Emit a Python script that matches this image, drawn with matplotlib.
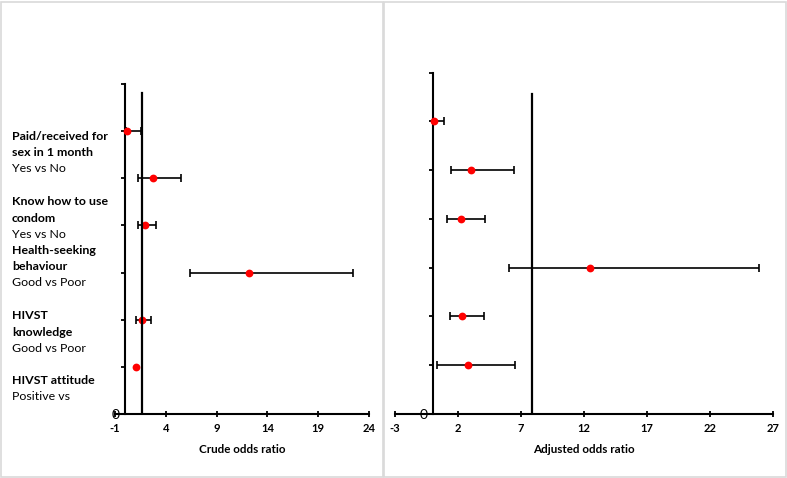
import matplotlib

matplotlib.use("Agg")
import matplotlib.pyplot as plt  # noqa: E402
from matplotlib.patches import Rectangle  # noqa: E402

plt.rcParams["font.family"] = ["Lato", "DejaVu Sans"]

# rows from top (y=6) to bottom (y=1)
ROW_Y = [6, 5, 4, 3, 2, 1]

CRUDE_OR = [0.15, 2.7, 1.95, 12.2, 1.66, 1.03]
CRUDE_LO = [0.05, 1.3, 1.23, 6.38, 1.07, 1.03]
CRUDE_HI = [1.6, 5.5, 3.0, 22.4, 2.54, 1.03]
CRUDE_REF_X = 1.66
CRUDE_REF_TOP = 6.8

ADJ_OR = [0.07, 3.0, 2.2, 12.47, 2.34, 2.82]
ADJ_LO = [0.0, 1.42, 1.15, 6.02, 1.37, 0.36]
ADJ_HI = [0.86, 6.4, 4.17, 25.9, 4.07, 6.52]
ADJ_REF_X = 7.9
ADJ_REF_TOP = 6.57

CRUDE_XTICKS = [-1, 4, 9, 14, 19, 24]
ADJ_XTICKS = [-3, 2, 7, 12, 17, 22, 27]

# (text, bold, y pixel from top)
ROW_LABELS = [
    ("Paid/received for", True, 136),
    ("sex in 1 month", True, 152.5),
    ("Yes vs No", False, 169),
    ("Know how to use", True, 201.5),
    ("condom", True, 218),
    ("Yes vs No", False, 234),
    ("Health-seeking", True, 250.5),
    ("behaviour", True, 267),
    ("Good vs Poor", False, 283),
    ("HIVST", True, 315.5),
    ("knowledge", True, 332),
    ("Good vs Poor", False, 348),
    ("HIVST attitude", True, 380.5),
    ("Positive vs", False, 397),
]

W, H = 787, 478


def forest(ax, est, lo, hi, ref_x, ref_top, xlim, xticks, xlabel):
    # rows whose interval collapses to the point get no bar
    keep = [i for i in range(len(est)) if hi[i] > lo[i]]
    ex = [est[i] for i in keep]
    ey = [ROW_Y[i] for i in keep]
    xerr = [[est[i] - lo[i] for i in keep], [hi[i] - est[i] for i in keep]]
    ax.errorbar(ex, ey, xerr=xerr, fmt="none", ecolor="black",
                elinewidth=1.2, capsize=2.6, capthick=1.2, zorder=3)
    ax.plot(est, ROW_Y, "o", color="#ff0000", markersize=5.6,
            markeredgewidth=0, zorder=4)
    ax.plot([ref_x, ref_x], [0, ref_top], color="black", linewidth=1.6,
            zorder=5)

    ax.set_xlim(*xlim)
    ax.set_ylim(0, 7)
    ax.set_xticks(xticks)
    ax.set_xticklabels([str(t) for t in xticks], fontweight="bold",
                       fontsize=8)
    ax.set_yticks(range(8))
    ax.set_yticklabels(["0"] + [""] * 7, fontsize=8, color="#a6a6a6")

    ax.spines["left"].set_position(("data", 0))
    ax.spines["top"].set_visible(False)
    ax.spines["right"].set_visible(False)
    for s in ("left", "bottom"):
        ax.spines[s].set_linewidth(1.5)
    ax.tick_params(axis="x", direction="inout", length=5, width=1.3, pad=4)
    ax.tick_params(axis="y", direction="out", length=3, width=1.3, pad=1)
    ax.set_xlabel(xlabel, fontweight="bold", fontsize=8.4, labelpad=7)


fig = plt.figure(figsize=(W / 100, H / 100), dpi=100)

# chart area boxes
fig.patches.append(Rectangle((0.5 / W, 1.5 / H), 382 / W, 475 / H,
                             transform=fig.transFigure, fill=False,
                             edgecolor="#d9d9d9", linewidth=1.2))
fig.patches.append(Rectangle((383.5 / W, 1.5 / H), 402 / W, 475 / H,
                             transform=fig.transFigure, fill=False,
                             edgecolor="#d9d9d9", linewidth=1.2))

ax1 = fig.add_axes([115 / W, (H - 414) / H, 254 / W, 330 / H])
forest(ax1, CRUDE_OR, CRUDE_LO, CRUDE_HI, CRUDE_REF_X, CRUDE_REF_TOP,
       (-1, 24), CRUDE_XTICKS, "Crude odds ratio")

ax2 = fig.add_axes([395 / W, (H - 414) / H, 378.3 / W, 341.3 / H])
forest(ax2, ADJ_OR, ADJ_LO, ADJ_HI, ADJ_REF_X, ADJ_REF_TOP,
       (-3, 27), ADJ_XTICKS, "Adjusted odds ratio")

for text, bold, ypx in ROW_LABELS:
    fig.text(12 / W, 1 - ypx / H, text, ha="left", va="center",
             fontsize=8.9, fontweight="bold" if bold else "normal",
             color="black")

fig.savefig("out.png", dpi=100)
